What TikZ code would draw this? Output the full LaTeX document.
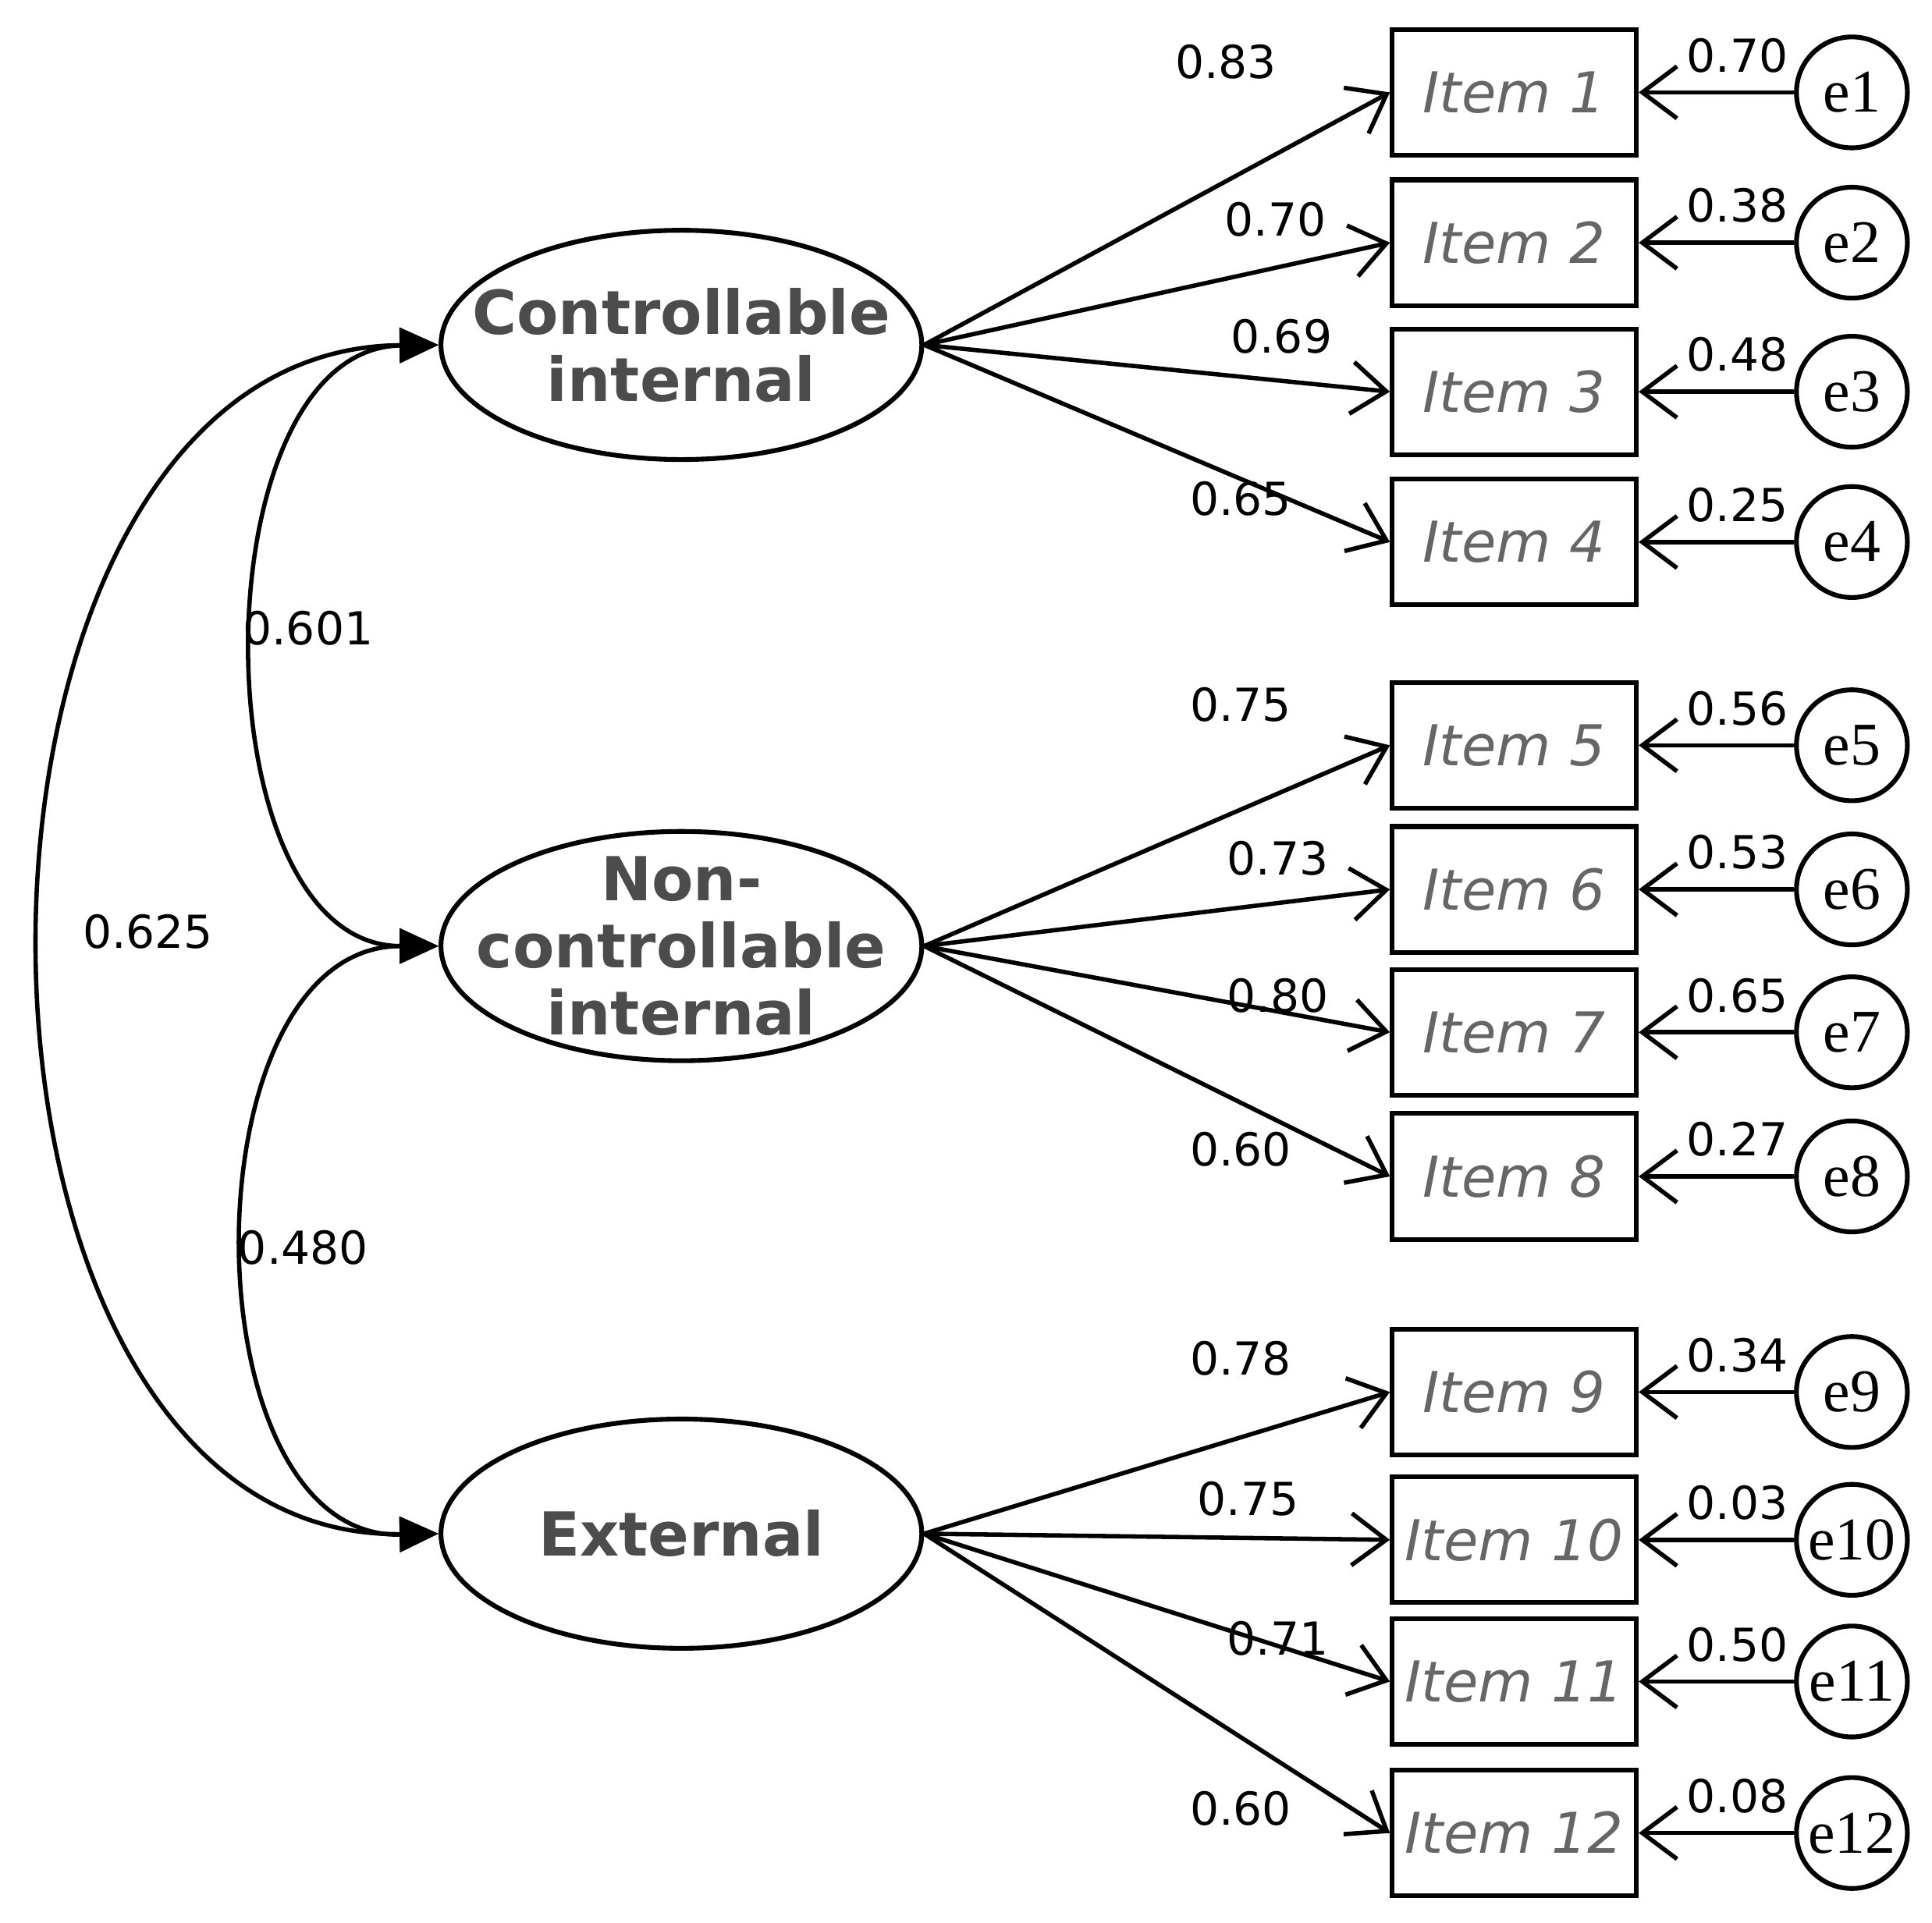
\documentclass[tikz,border=0pt]{standalone}
\usepackage{fontspec}
\setmainfont{DejaVu Sans}
\newfontfamily\seriffont{Liberation Serif}
\usetikzlibrary{arrows.meta,shapes.geometric}
\begin{document}
\begin{tikzpicture}[x=0.01cm,y=-0.01cm,
  lat/.style={draw,line width=1.1pt,ellipse,minimum width=3.9cm,minimum height=1.86cm,inner sep=0pt},
  lattext/.style={align=center,font=\fontsize{14}{15.5}\selectfont\bfseries,text=black!70,inner sep=0pt},
  item/.style={draw,line width=1.1pt,minimum width=1.98cm,minimum height=1.02cm,text width=1.9cm,inner sep=0pt,align=center,font=\fontsize{13}{15}\selectfont\itshape,text=black!60},
  err/.style={draw,line width=1.1pt,circle,minimum size=0.9cm,inner sep=-2pt,font=\seriffont\fontsize{14}{16}\selectfont},
  num/.style={font=\fontsize{10.5}{12}\selectfont},
  ld/.style={line width=1pt,-{Straight Barb[length=8pt,width=12pt]}},
  cov/.style={line width=1pt,{Triangle[length=9pt,width=8pt]}-{Triangle[length=9pt,width=8pt]}}]
\useasboundingbox (0,0) rectangle (1568,1561);
\node[lat] (F1) at (553,280) {};
\node[lat] (F2) at (553,768) {};
\node[lat] (F3) at (553,1245) {};
\node[lattext] (t1) at (F1) {Controllable\\internal};
\node[lattext] (t2) at (F2) {Non-\\controllable\\internal};
\node[lattext] (t3) at (F3) {External};
\foreach \i/\y/\f/\e in {1/75/1/0.70,2/197/1/0.38,3/318/1/0.48,4/440/1/0.25,5/605/2/0.56,6/722/2/0.53,7/838/2/0.65,8/955/2/0.27,9/1130/3/0.34,10/1250/3/0.03,11/1365/3/0.50,12/1488/3/0.08}{
  \node[item] (I\i) at (1229,\y) {Item \i};
  \node[err] (e\i) at (1503,\y) {e\i};
  \draw[ld] (e\i) -- (I\i);
  \draw[ld] (F\f.east) -- (I\i.west);
  \node[num] (re\i) at (1410,\y-30) {\e};
}
\node[num] (l1) at (995,50) {0.83};
\node[num] (l2) at (1035,178) {0.70};
\node[num] (l3) at (1040,273) {0.69};
\node[num] (l4) at (1007,405) {0.65};
\node[num] (l5) at (1007,572) {0.75};
\node[num] (l6) at (1037,697) {0.73};
\node[num] (l7) at (1037,808) {0.80};
\node[num] (l8) at (1007,933) {0.60};
\node[num] (l9) at (1007,1103) {0.78};
\node[num] (l10) at (1013,1217) {0.75};
\node[num] (l11) at (1037,1330) {0.71};
\node[num] (l12) at (1007,1468) {0.60};
\draw[cov] (F1.west) .. controls (160,283) and (160,768) .. (F2.west);
\draw[cov] (F2.west) .. controls (150,768) and (150,1250) .. (F3.west);
\draw[cov] (F1.west) .. controls (-70,283) and (-70,1250) .. (F3.west);
\node[num] (c1) at (250,510) {0.601};
\node[num] (c2) at (246,1013) {0.480};
\node[num] (c3) at (120,756) {0.625};
\end{tikzpicture}
\end{document}
